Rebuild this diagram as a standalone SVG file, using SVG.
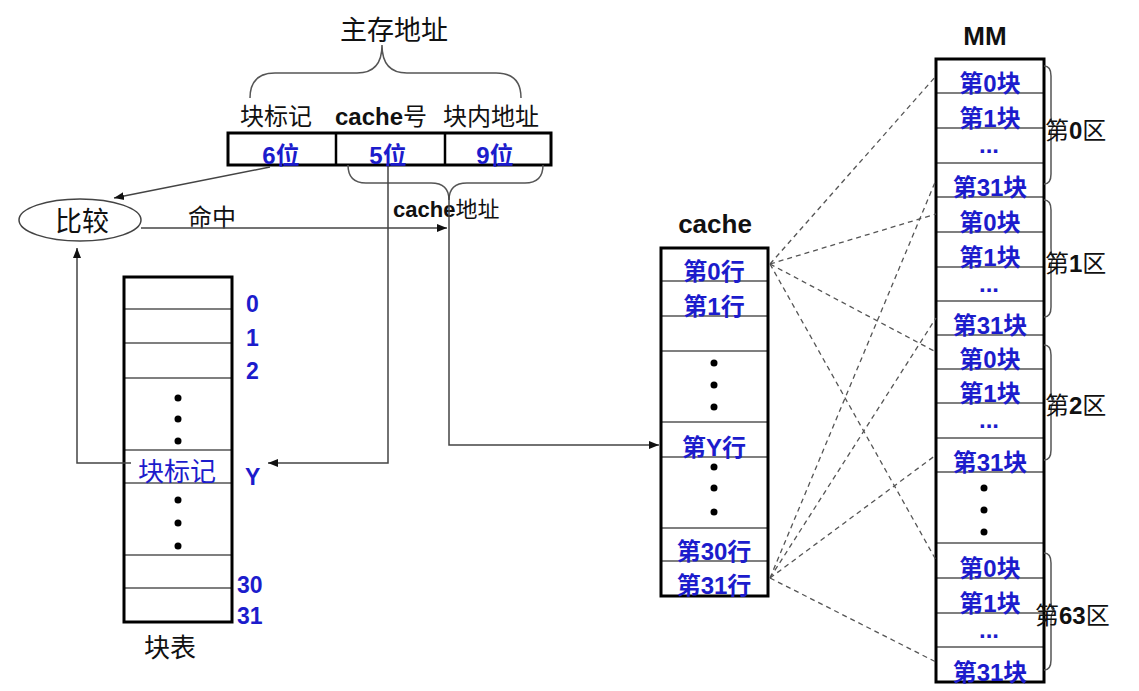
<svg xmlns="http://www.w3.org/2000/svg" width="1139" height="691" viewBox="0 0 1139 691">
<style>
.bg{fill:#fff}
.box{fill:none;stroke:#000;stroke-width:3}
.row{stroke:#555;stroke-width:1.5}
.con{fill:none;stroke:#444;stroke-width:1.5}
.dash{fill:none;stroke:#555;stroke-width:1.3;stroke-dasharray:5 4}
.brace{fill:none;stroke:#555;stroke-width:1.5}
.t{font-family:"Liberation Sans","Noto Sans CJK SC",sans-serif;fill:#111}
.blue{fill:#1c1ccc}
.n{font-weight:bold}
.dot{fill:#000}
</style>
<defs>
<marker id="ah" viewBox="0 0 10 10" refX="10" refY="5" markerWidth="10" markerHeight="10" markerUnits="userSpaceOnUse" orient="auto"><path d="M0,1 L10,5 L0,9 z" fill="#111"/></marker>
</defs>
<rect class="bg" x="0" y="0" width="1139" height="691"/>

<g id="main-address">
<text class="t" x="394" y="40" font-size="27" text-anchor="middle">主存地址</text>
<path class="brace" d="M250,98 Q250,73 275,73 L357,73 Q382,73 382,45 Q382,73 407,73 L496,73 Q521,73 521,98"/>
<text class="t" x="276" y="125" font-size="24" text-anchor="middle">块标记</text>
<text class="t" x="381" y="125" font-size="24" text-anchor="middle"><tspan class="n">cache</tspan>号</text>
<text class="t" x="491" y="125" font-size="24" text-anchor="middle">块内地址</text>
<rect x="228" y="133" width="323" height="32" fill="#fff" stroke="#000" stroke-width="3"/>
<line x1="336" y1="133" x2="336" y2="165" stroke="#000" stroke-width="2.5"/>
<line x1="445" y1="133" x2="445" y2="165" stroke="#000" stroke-width="2.5"/>
<text class="t blue n" x="281" y="164" font-size="24" text-anchor="middle">6位</text>
<text class="t blue n" x="388" y="164" font-size="24" text-anchor="middle">5位</text>
<text class="t blue n" x="495" y="164" font-size="24" text-anchor="middle">9位</text>
<path class="brace" d="M348,165 Q348,183 366,183 L431,183 Q449,183 449,200 Q449,183 467,183 L525,183 Q543,183 543,165"/>
<text class="t" x="393" y="217" font-size="22"><tspan class="n">cache</tspan>地址</text>
</g>

<g id="compare">
<ellipse cx="80" cy="220" rx="61" ry="21" fill="#fff" stroke="#444" stroke-width="1.5"/>
<text class="t" x="82" y="231" font-size="27" text-anchor="middle">比较</text>
</g>

<g id="hit-label">
<text class="t" x="212" y="226" font-size="24" text-anchor="middle">命中</text>
</g>

<g id="block-table">
<rect x="124" y="277" width="108" height="345" fill="#fff"/>
<line class="row" x1="124" y1="309" x2="232" y2="309"/>
<line class="row" x1="124" y1="343" x2="232" y2="343"/>
<line class="row" x1="124" y1="378" x2="232" y2="378"/>
<line class="row" x1="124" y1="450" x2="232" y2="450"/>
<line class="row" x1="124" y1="483" x2="232" y2="483"/>
<line class="row" x1="124" y1="555" x2="232" y2="555"/>
<line class="row" x1="124" y1="588" x2="232" y2="588"/>
<rect class="box" x="124" y="277" width="108" height="345"/>
<circle class="dot" cx="178" cy="398" r="3.5"/>
<circle class="dot" cx="178" cy="419" r="3.5"/>
<circle class="dot" cx="178" cy="441" r="3.5"/>
<circle class="dot" cx="178" cy="500" r="3.5"/>
<circle class="dot" cx="178" cy="523" r="3.5"/>
<circle class="dot" cx="178" cy="546" r="3.5"/>
<text class="t blue" x="177" y="481" font-size="26" text-anchor="middle">块标记</text>
<text class="t blue n" x="246" y="312" font-size="23">0</text>
<text class="t blue n" x="246" y="346" font-size="23">1</text>
<text class="t blue n" x="246" y="379" font-size="23">2</text>
<text class="t blue n" x="245" y="485" font-size="23">Y</text>
<text class="t blue n" x="237" y="593" font-size="23">30</text>
<text class="t blue n" x="237" y="624" font-size="23">31</text>
<text class="t" x="170" y="657" font-size="26" text-anchor="middle">块表</text>
</g>

<g id="cache">
<text class="t n" x="715" y="233" font-size="26" text-anchor="middle">cache</text>
<rect x="661" y="248" width="107" height="348" fill="#fff"/>
<line class="row" x1="661" y1="281" x2="768" y2="281"/>
<line class="row" x1="661" y1="316" x2="768" y2="316"/>
<line class="row" x1="661" y1="351" x2="768" y2="351"/>
<line class="row" x1="661" y1="422" x2="768" y2="422"/>
<line class="row" x1="661" y1="457" x2="768" y2="457"/>
<line class="row" x1="661" y1="528" x2="768" y2="528"/>
<line class="row" x1="661" y1="561" x2="768" y2="561"/>
<rect class="box" x="661" y="248" width="107" height="348"/>
<g class="t blue n" font-size="24" text-anchor="middle">
<text x="714" y="280">第0行</text>
<text x="714" y="315">第1行</text>
<text x="714" y="456">第Y行</text>
<text x="714" y="560">第30行</text>
<text x="714" y="594">第31行</text>
</g>
<circle class="dot" cx="714" cy="363" r="3.5"/>
<circle class="dot" cx="714" cy="385" r="3.5"/>
<circle class="dot" cx="714" cy="407" r="3.5"/>
<circle class="dot" cx="714" cy="467" r="3.5"/>
<circle class="dot" cx="714" cy="488" r="3.5"/>
<circle class="dot" cx="714" cy="512" r="3.5"/>
</g>

<g id="mm">
<text class="t n" x="985" y="45" font-size="26" text-anchor="middle">MM</text>
<rect x="936" y="59" width="108" height="623" fill="#fff"/>
<g class="row">
<line x1="936" y1="93" x2="1044" y2="93"/>
<line x1="936" y1="128" x2="1044" y2="128"/>
<line x1="936" y1="163" x2="1044" y2="163"/>
<line x1="936" y1="197" x2="1044" y2="197"/>
<line x1="936" y1="232" x2="1044" y2="232"/>
<line x1="936" y1="267" x2="1044" y2="267"/>
<line x1="936" y1="301" x2="1044" y2="301"/>
<line x1="936" y1="335" x2="1044" y2="335"/>
<line x1="936" y1="369" x2="1044" y2="369"/>
<line x1="936" y1="403" x2="1044" y2="403"/>
<line x1="936" y1="438" x2="1044" y2="438"/>
<line x1="936" y1="472" x2="1044" y2="472"/>
<line x1="936" y1="543" x2="1044" y2="543"/>
<line x1="936" y1="578" x2="1044" y2="578"/>
<line x1="936" y1="613" x2="1044" y2="613"/>
<line x1="936" y1="647" x2="1044" y2="647"/>
</g>
<rect class="box" x="936" y="59" width="108" height="623"/>
<g class="t blue n" font-size="24" text-anchor="middle">
<text x="990" y="92">第0块</text>
<text x="990" y="127">第1块</text>
<text x="989" y="153">...</text>
<text x="990" y="196">第31块</text>
<text x="990" y="231">第0块</text>
<text x="990" y="266">第1块</text>
<text x="989" y="292">...</text>
<text x="990" y="334">第31块</text>
<text x="990" y="368">第0块</text>
<text x="990" y="402">第1块</text>
<text x="989" y="428">...</text>
<text x="990" y="471">第31块</text>
<text x="990" y="577">第0块</text>
<text x="990" y="612">第1块</text>
<text x="989" y="638">...</text>
<text x="990" y="681">第31块</text>
</g>
<circle class="dot" cx="984" cy="488" r="3.5"/>
<circle class="dot" cx="984" cy="510" r="3.5"/>
<circle class="dot" cx="984" cy="532" r="3.5"/>
</g>

<g id="zone0">
<path class="brace" d="M1044,66 Q1051,66 1051,76 L1051,116 Q1051,126 1055,126 Q1051,126 1051,136 L1051,174 Q1051,184 1044,184"/>
<text class="t" x="1045" y="139" font-size="24">第<tspan class="n">0</tspan>区</text>
</g>
<g id="zone1">
<path class="brace" d="M1044,200 Q1051,200 1051,210 L1051,248 Q1051,258 1055,258 Q1051,258 1051,268 L1051,307 Q1051,317 1044,317"/>
<text class="t" x="1045" y="272" font-size="24">第<tspan class="n">1</tspan>区</text>
</g>
<g id="zone2">
<path class="brace" d="M1044,345 Q1051,345 1051,355 L1051,392 Q1051,402 1055,402 Q1051,402 1051,412 L1051,450 Q1051,460 1044,460"/>
<text class="t" x="1045" y="414" font-size="24">第<tspan class="n">2</tspan>区</text>
</g>
<g id="zone63">
<path class="brace" d="M1044,553 Q1051,553 1051,563 L1051,601 Q1051,611 1055,611 Q1051,611 1051,621 L1051,660 Q1051,670 1044,670"/>
<text class="t" x="1035" y="624" font-size="24">第<tspan class="n">63</tspan>区</text>
</g>

<g id="connectors">
<line class="con" x1="270" y1="167" x2="114" y2="198" marker-end="url(#ah)"/>
<polyline class="con" points="388,166 388,463 268,463" marker-end="url(#ah)"/>
<line class="con" x1="141" y1="228" x2="447" y2="228" marker-end="url(#ah)"/>
<polyline class="con" points="131,463 77,463 77,248" marker-end="url(#ah)"/>
<polyline class="con" points="449,195 449,445 659,445" marker-end="url(#ah)"/>
<line class="dash" x1="770" y1="264" x2="936" y2="76"/>
<line class="dash" x1="770" y1="264" x2="936" y2="214"/>
<line class="dash" x1="770" y1="264" x2="936" y2="352"/>
<line class="dash" x1="770" y1="264" x2="936" y2="560"/>
<line class="dash" x1="770" y1="578" x2="936" y2="180"/>
<line class="dash" x1="770" y1="578" x2="936" y2="318"/>
<line class="dash" x1="770" y1="578" x2="936" y2="455"/>
<line class="dash" x1="770" y1="578" x2="936" y2="662"/>
</g>
</svg>
